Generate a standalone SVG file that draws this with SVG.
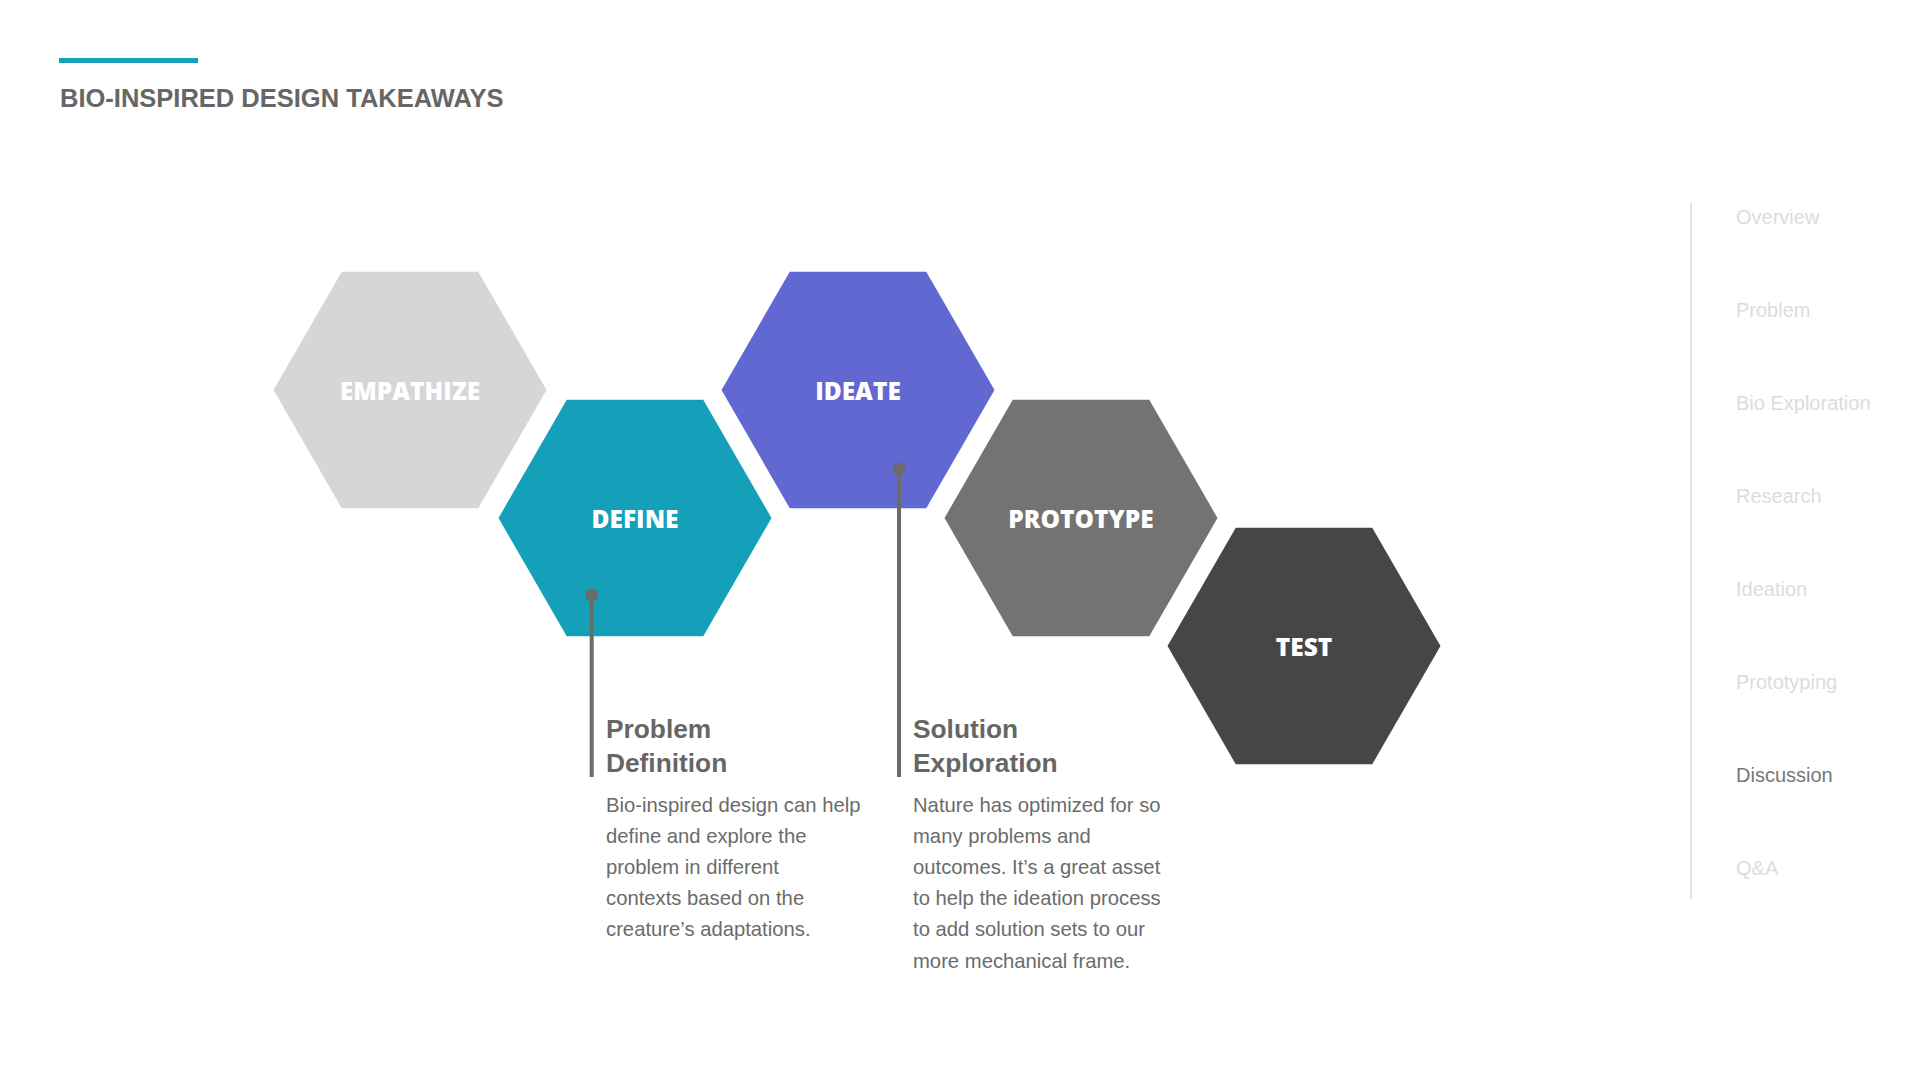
<svg xmlns="http://www.w3.org/2000/svg" xmlns:xlink="http://www.w3.org/1999/xlink" width="1920" height="1080" viewBox="0 0 1920 1080">
<style>
.title{font-family:"Liberation Sans",Arial,sans-serif;font-weight:700;font-size:25.5px;fill:#666666}
.hexlabel{font-family:"Open Sans","Liberation Sans",sans-serif;font-weight:800;font-size:24.5px;fill:#ffffff;text-anchor:middle}
.head{font-family:"Liberation Sans",Arial,sans-serif;font-weight:700;font-size:26.3px;fill:#666666}
.body{font-family:"Liberation Sans",Arial,sans-serif;font-size:20.25px;fill:#6b6b6b}
.nav{font-family:"Liberation Sans",Arial,sans-serif;font-size:20px;fill:#dcdcdc}
.nav.active{fill:#777777}
.pin{stroke:#6b6b6b;stroke-width:4;fill:none}
.dot{fill:#6b6b6b}
</style>
<defs>
<polygon id="hex" points="-136.5,0 -68.25,-118.2 68.25,-118.2 136.5,0 68.25,118.2 -68.25,118.2"/>
</defs>
<rect width="1920" height="1080" fill="#ffffff"/>
<g id="header">
<rect x="59" y="58" width="139" height="5" fill="#16a0b9"/>
<text class="title" x="60" y="106.5">BIO-INSPIRED DESIGN TAKEAWAYS</text>
</g>
<g id="empathize">
<use xlink:href="#hex" href="#hex" x="410" y="390" fill="#d6d6d6"/>
<text class="hexlabel" x="410" y="400">EMPATHIZE</text>
</g>
<g id="define">
<use xlink:href="#hex" href="#hex" x="635" y="518" fill="#15a0b9"/>
<text class="hexlabel" x="635" y="528">DEFINE</text>
</g>
<g id="ideate">
<use xlink:href="#hex" href="#hex" x="858" y="390" fill="#6268d2"/>
<text class="hexlabel" x="858" y="400">IDEATE</text>
</g>
<g id="prototype">
<use xlink:href="#hex" href="#hex" x="1081" y="518" fill="#737373"/>
<text class="hexlabel" x="1081" y="528">PROTOTYPE</text>
</g>
<g id="test">
<use xlink:href="#hex" href="#hex" x="1304" y="646" fill="#464646"/>
<text class="hexlabel" x="1304" y="656">TEST</text>
</g>
<g id="connectors">
<line class="pin" x1="591.7" y1="595" x2="591.7" y2="777"/>
<circle class="dot" cx="591.7" cy="595" r="6.5"/>
<line class="pin" x1="899" y1="469" x2="899" y2="777"/>
<circle class="dot" cx="899" cy="469" r="6.5"/>
</g>
<g id="problem-definition">
<text class="head" x="606" y="738">Problem</text>
<text class="head" x="606" y="772">Definition</text>
<text class="body" x="606" y="811.5">Bio-inspired design can help</text>
<text class="body" x="606" y="842.7">define and explore the</text>
<text class="body" x="606" y="873.9">problem in different</text>
<text class="body" x="606" y="905.1">contexts based on the</text>
<text class="body" x="606" y="936.3">creature’s adaptations.</text>
</g>
<g id="solution-exploration">
<text class="head" x="913" y="738">Solution</text>
<text class="head" x="913" y="772">Exploration</text>
<text class="body" x="913" y="811.5">Nature has optimized for so</text>
<text class="body" x="913" y="842.7">many problems and</text>
<text class="body" x="913" y="873.9">outcomes. It’s a great asset</text>
<text class="body" x="913" y="905.1">to help the ideation process</text>
<text class="body" x="913" y="936.3">to add solution sets to our</text>
<text class="body" x="913" y="967.5">more mechanical frame.</text>
</g>
<g id="nav">
<line x1="1691" y1="203" x2="1691" y2="899" stroke="#e0e0e0" stroke-width="2"/>
<text class="nav" x="1736" y="224">Overview</text>
<text class="nav" x="1736" y="317">Problem</text>
<text class="nav" x="1736" y="410">Bio Exploration</text>
<text class="nav" x="1736" y="503">Research</text>
<text class="nav" x="1736" y="596">Ideation</text>
<text class="nav" x="1736" y="689">Prototyping</text>
<text class="nav active" x="1736" y="782">Discussion</text>
<text class="nav" x="1736" y="875">Q&amp;A</text>
</g>
</svg>
